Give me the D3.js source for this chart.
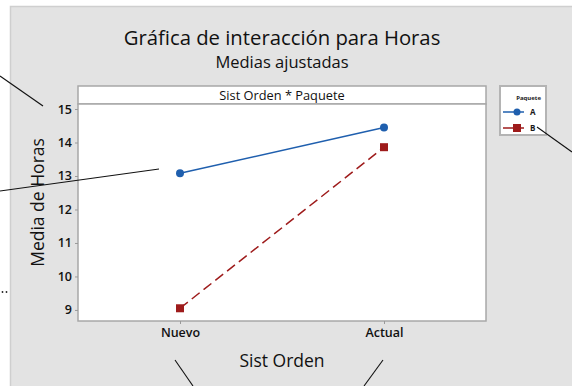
<!DOCTYPE html>
<html>
<head>
<meta charset="utf-8">
<script src="https://cdn.jsdelivr.net/npm/d3@7/dist/d3.min.js"></script>
<style>
  html, body { margin: 0; padding: 0; background: #ffffff; }
  svg { display: block; font-family: "Open Sans", "Noto Sans", sans-serif; }
</style>
</head>
<body>
<svg id="chart" width="572" height="386"></svg>
<script>
// Fitted means of Horas by Sist Orden, one line per Paquete
const categories = ["Nuevo", "Actual"];
const seriesNames = ["A", "B"];
const valuesA = [13.08, 14.45];
const valuesB = [9.05, 13.86];
const yTicks = [9, 10, 11, 12, 13, 14, 15];

const svg = d3.select("#chart");

// Grey graph panel
svg.append("rect")
  .attr("x", 10.5).attr("y", 6.5)
  .attr("width", 600).attr("height", 400)
  .attr("fill", "#e3e3e3").attr("stroke", "#cfcfcf").attr("stroke-width", 1.5);

// Titles
svg.append("text").attr("x", 282).attr("y", 45).attr("text-anchor", "middle")
  .attr("font-size", 20.3).attr("fill", "#111").text("Gráfica de interacción para Horas");
svg.append("text").attr("x", 282).attr("y", 68).attr("text-anchor", "middle")
  .attr("font-size", 16.5).attr("fill", "#111").text("Medias ajustadas");

const plot = { left: 78, right: 486, top: 104, bottom: 321, stripTop: 86 };

const x = d3.scalePoint().domain(categories)
  .range([plot.left, plot.right]).padding(0.5);
const y = d3.scaleLinear().domain([8.67, 15.15])
  .range([plot.bottom, plot.top]);

// Strip
svg.append("rect")
  .attr("x", plot.left).attr("y", plot.stripTop)
  .attr("width", plot.right - plot.left).attr("height", plot.top - plot.stripTop)
  .attr("fill", "#ffffff").attr("stroke", "#a8a8a8").attr("stroke-width", 1.5);
svg.append("text").attr("x", (plot.left + plot.right) / 2).attr("y", 100)
  .attr("text-anchor", "middle").attr("font-size", 12.8).attr("fill", "#111")
  .text("Sist Orden * Paquete");

// Data region
svg.append("rect")
  .attr("x", plot.left).attr("y", plot.top)
  .attr("width", plot.right - plot.left).attr("height", plot.bottom - plot.top)
  .attr("fill", "#ffffff").attr("stroke", "#a8a8a8").attr("stroke-width", 1.5);

// Axes
const yAxis = d3.axisLeft(y).tickValues(yTicks).tickFormat(d3.format("d"))
  .tickSize(3).tickPadding(3);
const gy = svg.append("g").attr("transform", `translate(${plot.left},0)`).call(yAxis);
gy.select(".domain").remove();
gy.selectAll(".tick line").attr("stroke", "#9a9a9a");
gy.selectAll(".tick text").attr("font-size", 12.5).attr("fill", "#111")
  .attr("font-family", "'Open Sans', sans-serif").attr("font-weight", 600);

const xAxis = d3.axisBottom(x).tickSize(3).tickPadding(4);
const gx = svg.append("g").attr("transform", `translate(0,${plot.bottom})`).call(xAxis);
gx.select(".domain").remove();
gx.selectAll(".tick line").attr("stroke", "#9a9a9a");
gx.selectAll(".tick text").attr("font-size", 12.5).attr("fill", "#111")
  .attr("font-family", "'Open Sans', sans-serif").attr("font-weight", 600);

// Axis titles
svg.append("text").attr("x", 282).attr("y", 367).attr("text-anchor", "middle")
  .attr("font-size", 17.5).attr("fill", "#111").text("Sist Orden");
svg.append("text")
  .attr("transform", `translate(44,${(plot.top + plot.bottom) / 2 - 10}) rotate(-90)`)
  .attr("text-anchor", "middle").attr("font-size", 17.5).attr("fill", "#111")
  .text("Media de Horas");

// Series
const series = [
  { name: seriesNames[0], values: valuesA, color: "#1f5fae", dash: null, shape: "circle" },
  { name: seriesNames[1], values: valuesB, color: "#9e1b1b", dash: "10,5", shape: "square" }
];

const line = d3.line().x((d, i) => x(categories[i])).y(d => y(d));

series.forEach(s => {
  svg.append("path").datum(s.values)
    .attr("d", line).attr("fill", "none")
    .attr("stroke", s.color).attr("stroke-width", 1.5)
    .attr("stroke-dasharray", s.dash);
  s.values.forEach((v, i) => {
    const cx = x(categories[i]), cy = y(v);
    if (s.shape === "circle") {
      svg.append("circle").attr("cx", cx).attr("cy", cy).attr("r", 4).attr("fill", s.color);
    } else {
      svg.append("rect").attr("x", cx - 4).attr("y", cy - 4)
        .attr("width", 8).attr("height", 8).attr("fill", s.color);
    }
  });
});

// Legend
const lg = svg.append("g");
lg.append("rect").attr("x", 500).attr("y", 86).attr("width", 46).attr("height", 49)
  .attr("fill", "#ffffff").attr("stroke", "#b4b4b4").attr("stroke-width", 2);
lg.append("text").attr("x", 541).attr("y", 100).attr("text-anchor", "end")
  .attr("font-size", 6).attr("font-weight", 700).attr("fill", "#1a1a1a").text("Paquete");
series.forEach((s, i) => {
  const ly = 112 + i * 16;
  lg.append("line").attr("x1", 503).attr("x2", 524).attr("y1", ly).attr("y2", ly)
    .attr("stroke", s.color).attr("stroke-width", 1.5);
  if (s.shape === "circle") {
    lg.append("circle").attr("cx", 517).attr("cy", ly).attr("r", 3.5).attr("fill", s.color);
  } else {
    lg.append("rect").attr("x", 513).attr("y", ly - 4).attr("width", 8).attr("height", 8).attr("fill", s.color);
  }
  lg.append("text").attr("x", 530).attr("y", ly + 3).attr("font-size", 8)
    .attr("font-weight", 700).attr("fill", "#1a1a1a").text(s.name);
});

// Callout leader lines over the page
const callouts = [
  [[0, 76], [43, 106]],
  [[0, 191], [159, 169]],
  [[175, 360], [193, 386]],
  [[383, 360], [364, 386]],
  [[537, 127], [572, 152]]
];
callouts.forEach(c => {
  svg.append("line")
    .attr("x1", c[0][0]).attr("y1", c[0][1]).attr("x2", c[1][0]).attr("y2", c[1][1])
    .attr("stroke", "#111111").attr("stroke-width", 1.1);
});
[2.5, 6.5].forEach(cx => {
  svg.append("circle").attr("cx", cx).attr("cy", 292).attr("r", 0.9).attr("fill", "#222");
});
</script>
</body>
</html>
